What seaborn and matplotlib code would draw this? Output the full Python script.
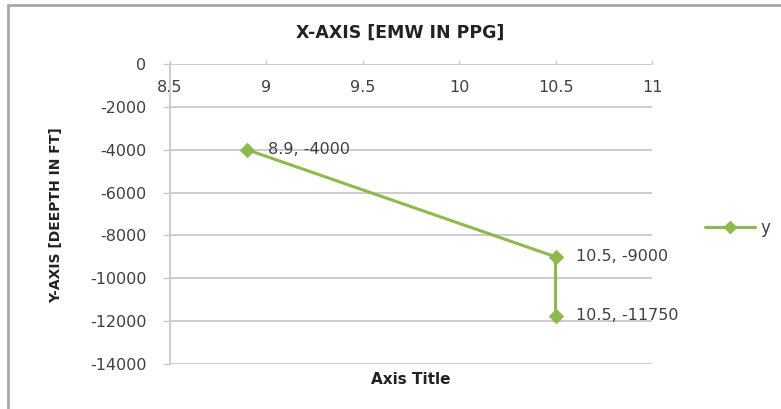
import matplotlib
matplotlib.use("Agg")
import matplotlib.pyplot as plt
import seaborn as sns
import pandas as pd
from matplotlib.lines import Line2D

emw = [8.9, 10.5, 10.5]
depth = [-4000, -9000, -11750]
point_labels = ["8.9, -4000", "10.5, -9000", "10.5, -11750"]
x_ticks = [8.5, 9, 9.5, 10, 10.5, 11]
x_tick_labels = ["8.5", "9", "9.5", "10", "10.5", "11"]
y_ticks = [0, -2000, -4000, -6000, -8000, -10000, -12000, -14000]
series_name = "y"

sns.set_theme(style="white")
plt.rcParams['font.family'] = ['DejaVu Sans']

green = "#8fb84e"
grid = "#c8c8c8"
txt = "#404040"

fig = plt.figure(figsize=(7.81, 4.09), dpi=100)
ax = fig.add_axes([170/781, 1-364/409, (652-170)/781, 300/409])

df = pd.DataFrame({"x": emw, "y": depth})
sns.lineplot(data=df, x="x", y="y", sort=False, estimator=None, errorbar=None,
             ax=ax, color=green, linewidth=2.2,
             marker="D", markersize=7, markeredgecolor=green, legend=False)

for xv, yv, lab in zip(emw, depth, point_labels):
    ax.annotate(lab, (xv, yv), xytext=(15, 0), textcoords="offset points",
                va="center", ha="left", fontsize=11.5, color=txt)

ax.set_xlim(8.5, 11)
ax.set_ylim(-14000, 0)
ax.set_xticks(x_ticks)
ax.set_xticklabels(x_tick_labels)
ax.set_yticks(y_ticks)
ax.set_yticklabels([str(v) for v in y_ticks])

for v in y_ticks:
    ax.axhline(v, color=grid, linewidth=1.3, zorder=0)

for s in ["right", "bottom", "top"]:
    ax.spines[s].set_visible(False)
ax.spines["left"].set_color(grid)
ax.spines["left"].set_linewidth(1.3)

ax.tick_params(axis="x", top=True, labeltop=True, bottom=False, labelbottom=False,
               direction="out", length=3, width=1, color=grid, pad=-25,
               labelsize=11.5, labelcolor=txt)
ax.tick_params(axis="y", left=True, direction="out", length=5, width=1, color=grid,
               pad=12, labelsize=11.5, labelcolor=txt)

ax.set_xlabel("")
ax.set_ylabel("")
fig.text(400/781, 1-33/409, "X-AXIS [EMW IN PPG]", ha="center", va="center",
         fontsize=12.5, fontweight="bold", color="#222222")
fig.text(411/781, 1-380/409, "Axis Title", ha="center", va="center",
         fontsize=11, fontweight="bold", color="#222222")
fig.text(56/781, 1-215/409, "Y-AXIS [DEEPTH IN FT]", ha="center", va="center",
         rotation=90, fontsize=10, fontweight="bold", color="#222222")

handle = Line2D([0], [0], color=green, linewidth=2.2, marker="D", markersize=6)
fig.legend([handle], [series_name], loc="center left", bbox_to_anchor=(690/781, 1-228/409),
           frameon=False, fontsize=12, handlelength=3, handletextpad=0.3,
           labelcolor=txt)

border = "#a8a8a8"
fig.add_artist(Line2D([8/781, 1], [1-5/409, 1-5/409], color=border, linewidth=2,
                      transform=fig.transFigure))
fig.add_artist(Line2D([8/781, 8/781], [0, 1-5/409], color=border, linewidth=2,
                      transform=fig.transFigure))

fig.savefig("out.png", dpi=100)
